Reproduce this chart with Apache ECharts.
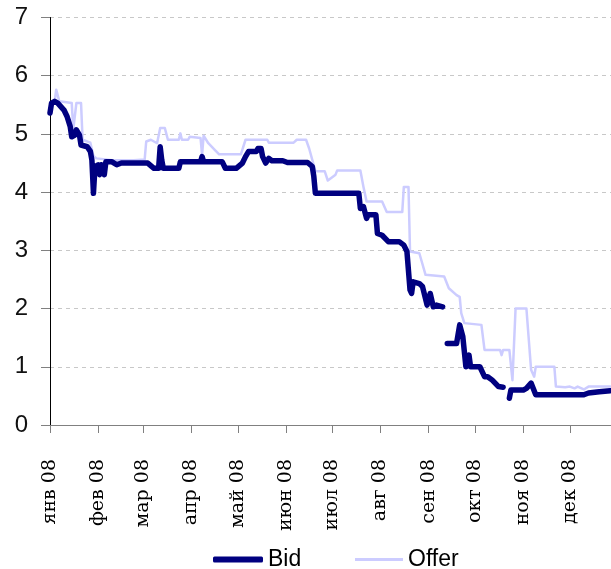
<!DOCTYPE html>
<html>
<head>
<meta charset="utf-8">
<script src="https://cdn.jsdelivr.net/npm/echarts@6/dist/echarts.min.js"></script>
<style>
  html, body { margin: 0; padding: 0; background: #fff; }
  #chart { width: 611px; height: 569px; }
</style>
</head>
<body>
<div id="chart"></div>
<script>
const YEAR = 2008;
const monthNames = ['янв','фев','мар','апр','май','июн','июл','авг','сен','окт','ноя','дек'];
const yTicks = [0, 1, 2, 3, 4, 5, 6, 7];

// Bid quotes (null = no quote, breaks the line)
const bidDates = [
  '01-01','01-02','01-04','01-06','01-10','01-12','01-14','01-15','01-17','01-18',
  '01-20','01-21','01-25','01-27','01-28','01-29','01-30','02-01','02-02','02-03',
  '02-05','02-06','02-10','02-13','02-16','03-04','03-08','03-11','03-12','03-13',
  '03-14','03-24','03-25','04-07','04-08','04-09','04-21','04-23','04-30','05-04',
  '05-06','05-08','05-13','05-14','05-16','05-17','05-19','05-21','05-23','05-30',
  '06-02','06-15','06-18','06-19','06-20','07-18','07-19','07-21','07-23','07-24',
  '07-29','07-30','08-02','08-06','08-13','08-16','08-18','08-19','08-20','08-21',
  '08-22','08-26','08-28','08-31','09-02','09-04','09-06','09-10','09-12','09-13',
  '09-19','09-21','09-23','09-25','09-27','09-28','10-04','10-07','10-09','10-12',
  '10-16','10-19','10-21','10-23','10-24','11-01','11-03','11-06','11-09','12-10',
  '12-13','12-20','12-27'
];
const bidValues = [
  5.36,5.53,5.56,5.53,5.41,5.30,5.13,4.95,4.98,5.07,
  4.98,4.81,4.78,4.70,4.55,3.98,4.44,4.47,4.30,4.47,
  4.30,4.52,4.52,4.47,4.50,4.50,4.41,4.41,4.78,4.55,
  4.41,4.41,4.52,4.52,4.61,4.52,4.52,4.41,4.41,4.50,
  4.61,4.70,4.70,4.75,4.75,4.61,4.50,4.58,4.54,4.54,
  4.51,4.51,4.44,4.27,3.98,3.98,3.72,3.75,3.55,3.61,
  3.61,3.29,3.26,3.15,3.15,3.09,2.98,2.98,2.32,2.26,
  2.46,2.43,2.38,2.06,2.26,2.03,2.06,2.03,null,1.40,
  1.40,1.72,1.52,1.00,1.20,1.00,1.00,0.83,0.83,0.77,
  0.66,0.65,null,0.46,0.60,0.60,0.63,0.72,0.52,0.52,
  0.55,0.57,0.59
];

// Offer quotes
const offerDates = [
  '01-01','01-04','01-05','01-07','01-15','01-16','01-17','01-18','01-21','01-22',
  '01-27','01-29','01-31','02-10','02-24','03-02','03-03','03-06','03-10','03-12',
  '03-15','03-17','03-24','03-25','03-26','03-30','03-31','04-07','04-08','04-09',
  '04-12','04-16','04-19','05-03','05-06','05-20','05-21','06-06','06-08','06-14',
  '06-16','06-20','06-26','06-28','06-30','07-03','07-04','07-19','07-21','07-23',
  '08-02','08-05','08-15','08-16','08-19','08-20','08-26','08-30','09-11','09-14',
  '09-19','09-21','09-22','09-24','10-05','10-07','10-17','10-18','10-19','10-23',
  '10-25','10-26','10-27','11-03','11-06','11-08','11-09','11-21','11-22','11-28',
  '12-01','12-04','12-06','12-10','12-13','12-27'
];
const offerValues = [
  5.53,5.56,5.76,5.56,5.53,5.08,5.08,5.53,5.53,4.90,
  4.85,4.62,4.58,4.55,4.55,4.56,4.87,4.90,4.84,5.10,
  5.10,4.90,4.90,5.01,4.90,4.90,4.95,4.93,4.64,4.97,
  4.84,4.73,4.65,4.65,4.90,4.90,4.85,4.85,4.90,4.90,
  4.75,4.36,4.36,4.20,4.24,4.30,4.37,4.37,4.09,3.84,
  3.84,3.66,3.66,4.09,4.09,2.98,2.95,2.58,2.55,2.35,
  2.23,2.20,1.92,1.75,1.72,1.29,1.29,1.20,1.29,1.29,
  0.77,0.77,2.00,2.00,0.95,0.83,1.00,1.00,0.66,0.65,
  0.66,0.63,0.66,0.61,0.66,0.66
];

// Dates are placed on a numeric day axis (days since 1 January)
const DAY = 86400000;
const yearStart = Date.UTC(YEAR, 0, 1);
function toDay(md) {
  const [m, d] = md.split('-').map(Number);
  return (Date.UTC(YEAR, m - 1, d) - yearStart) / DAY;
}
function pairs(dates, values) {
  return dates.map((d, i) => [toDay(d), values[i] === null ? '-' : values[i]]);
}
const monthStarts = monthNames.map((_, i) => (Date.UTC(YEAR, i, 1) - yearStart) / DAY);
function monthLabel(v) {
  const i = monthStarts.indexOf(v);
  return i >= 0 ? monthNames[i] + ' 08' : '';
}

const BID_COLOR = '#000080';
const OFFER_COLOR = '#ccccff';
const legendText = { fontFamily: 'Liberation Sans', fontSize: 23, color: '#000' };

const chart = echarts.init(document.getElementById('chart'), null, { renderer: 'canvas' });
chart.setOption({
  animation: false,
  backgroundColor: '#ffffff',
  grid: { left: 50, right: 0, top: 17.5, bottom: 144, containLabel: false },
  xAxis: {
    type: 'value',
    min: 0,
    max: 361.5,
    axisLine: { show: true, onZero: false, lineStyle: { color: '#808080', width: 1 } },
    axisTick: { show: true, customValues: monthStarts, length: 8, lineStyle: { color: '#808080', width: 1 } },
    axisLabel: {
      customValues: monthStarts,
      rotate: 90,
      margin: 34,
      fontFamily: 'DejaVu Serif',
      fontSize: 19,
      color: '#000',
      formatter: monthLabel
    },
    splitLine: { show: false }
  },
  yAxis: {
    type: 'value',
    min: 0,
    max: 7,
    interval: 1,
    axisLine: { show: true, lineStyle: { color: '#000', width: 1 } },
    axisTick: { show: true, length: 9, lineStyle: { color: '#808080' } },
    axisLabel: {
      margin: 22,
      fontFamily: 'Liberation Sans',
      fontSize: 24,
      color: '#111',
      formatter: v => yTicks.includes(v) ? String(v) : ''
    },
    splitLine: { show: true, lineStyle: { color: '#c8c8c8', type: [4, 4], width: 1 } }
  },
  legend: [
    {
      left: 208,
      top: 543,
      icon: 'roundRect',
      itemWidth: 50,
      itemHeight: 6,
      textStyle: legendText,
      data: [{ name: 'Bid', itemStyle: { color: BID_COLOR } }]
    },
    {
      left: 350,
      top: 543,
      icon: 'rect',
      itemWidth: 48,
      itemHeight: 3,
      textStyle: legendText,
      data: [{ name: 'Offer', itemStyle: { color: OFFER_COLOR } }]
    }
  ],
  series: [
    {
      name: 'Offer',
      type: 'line',
      data: pairs(offerDates, offerValues),
      showSymbol: false,
      symbol: 'none',
      z: 2,
      lineStyle: { color: OFFER_COLOR, width: 2.5, join: 'round', cap: 'round' },
      itemStyle: { color: OFFER_COLOR }
    },
    {
      name: 'Bid',
      type: 'line',
      data: pairs(bidDates, bidValues),
      showSymbol: false,
      symbol: 'none',
      z: 3,
      connectNulls: false,
      lineStyle: { color: BID_COLOR, width: 5.5, join: 'round', cap: 'round' },
      itemStyle: { color: BID_COLOR }
    }
  ]
});
</script>
</body>
</html>
